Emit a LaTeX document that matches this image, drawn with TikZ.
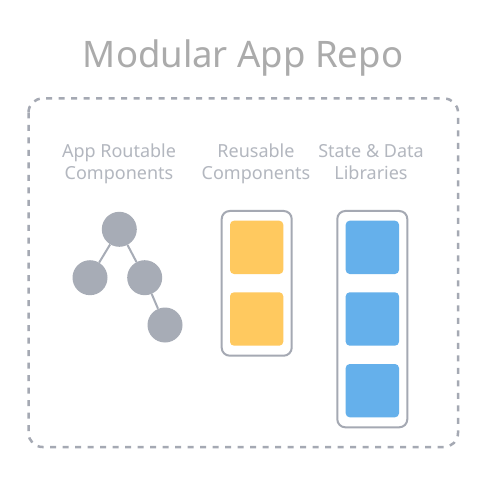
\documentclass[tikz,border=0pt]{standalone}
\usepackage{fontspec}
\setmainfont{Noto Sans}
\definecolor{titlegray}{HTML}{ABABAB}
\definecolor{labelgray}{HTML}{B3B7BF}
\definecolor{linegray}{HTML}{A5A9B3}
\definecolor{nodegray}{HTML}{A7ACB6}
\definecolor{compyellow}{HTML}{FFC95F}
\definecolor{libblue}{HTML}{65B0EB}
\begin{document}
\begin{tikzpicture}[x=1pt,y=-1pt,
  titletext/.style={text=titlegray,font=\fontsize{36.5}{40}\selectfont,inner sep=0pt,anchor=base},
  labeltext/.style={text=labelgray,font=\fontsize{18}{22}\selectfont,inner sep=0pt,align=center,anchor=base},
  treenode/.style={circle,fill=nodegray,minimum size=35pt,inner sep=0pt},
  treeedge/.style={draw=nodegray,line width=2pt},
  column/.style={draw=linegray,line width=2pt,rounded corners=8pt,fill=white},
  ybox/.style={fill=compyellow,rounded corners=4pt},
  bbox/.style={fill=libblue,rounded corners=4pt},
  repo/.style={draw=linegray,line width=2.5pt,dash pattern=on 6pt off 6.5pt,rounded corners=14pt}]
\useasboundingbox (0,0) rectangle (500,478);
\fill[white] (0,0) rectangle (500,478);
% title
\node[titletext] (title) at (243,68) {Modular App Repo};
% dashed repo box
\draw[repo] (28.5,98.5) rectangle (458,447);
% labels
\node[labeltext] (l1a) at (119,157.5) {App Routable};
\node[labeltext] (l1b) at (119,180) {Components};
\node[labeltext] (l2a) at (256,157.5) {Reusable};
\node[labeltext] (l2b) at (256,180) {Components};
\node[labeltext] (l3a) at (371,157.5) {State \& Data};
\node[labeltext] (l3b) at (371,180) {Libraries};
% tree
\node[treenode] (t1) at (119.3,229.3) {};
\node[treenode] (t2) at (90,277.7) {};
\node[treenode] (t3) at (144.7,277.7) {};
\node[treenode] (t4) at (165,325) {};
\draw[treeedge] (t1) -- (t2);
\draw[treeedge] (t1) -- (t3);
\draw[treeedge] (t3) -- (t4);
% reusable components column
\draw[column] (221.7,211) rectangle (291.7,355.7);
\fill[ybox] (230,220.7) rectangle (283.3,274);
\fill[ybox] (230,292.3) rectangle (283.3,345.7);
% libraries column
\draw[column] (337.3,211) rectangle (407.3,427.3);
\fill[bbox] (345.7,220.7) rectangle (399,274);
\fill[bbox] (345.7,292.3) rectangle (399,345.7);
\fill[bbox] (345.7,364) rectangle (399,417.3);
\end{tikzpicture}
\end{document}
